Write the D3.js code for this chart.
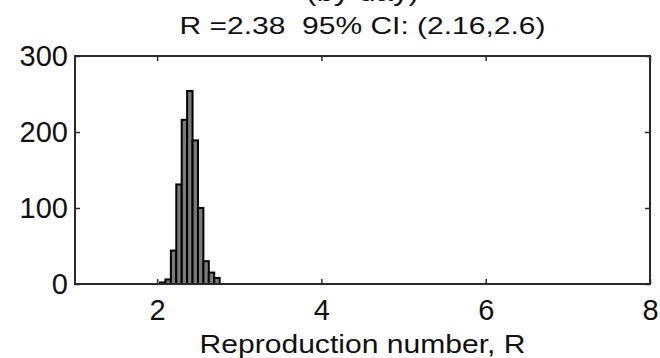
<!DOCTYPE html>
<html>
<head>
<meta charset="utf-8">
<script src="https://cdn.jsdelivr.net/npm/d3@7"></script>
<style>
  html, body { margin: 0; padding: 0; background: #fff; }
  svg { display: block; }
  text { font-family: "Liberation Sans", Arial, Helvetica, sans-serif; fill: #111; }
</style>
</head>
<body>
<svg id="chart" width="660" height="358"></svg>
<script>
// ---- data ----
const titleLines = ["(by day)", "R =2.38  95% CI: (2.16,2.6)"];
const xLabel = "Reproduction number, R";
const xTicks = [2, 4, 6, 8];
const yTicks = [0, 100, 200, 300];
const xDomain = [1, 8];
const yDomain = [0, 300];
const binLeft  = [2.035, 2.101, 2.167, 2.233, 2.299, 2.365, 2.431, 2.497, 2.563, 2.629, 2.695];
const binRight = [2.101, 2.167, 2.233, 2.299, 2.365, 2.431, 2.497, 2.563, 2.629, 2.695, 2.761];
const counts   = [2, 6, 44, 131, 216, 254, 189, 100, 30, 15, 8];

// ---- layout ----
const W = 660, H = 358;
const m = { left: 75, right: 10, top: 56, bottom: 74 };
const svg = d3.select("#chart");
const x = d3.scaleLinear().domain(xDomain).range([m.left, W - m.right]);
const y = d3.scaleLinear().domain(yDomain).range([H - m.bottom, m.top]);
const axisColor = "#2a2a2a";

// bars
svg.append("g").selectAll("rect")
  .data(counts)
  .join("rect")
  .attr("x", (d, i) => x(binLeft[i]))
  .attr("width", (d, i) => x(binRight[i]) - x(binLeft[i]))
  .attr("y", d => y(d))
  .attr("height", d => y(0) - y(d))
  .attr("fill", "#7a7a7a")
  .attr("stroke", "#000")
  .attr("stroke-width", 2);

// axes (ticks inside, MATLAB style)
const gx = svg.append("g").attr("transform", `translate(0,${y(0)})`)
  .call(d3.axisBottom(x).tickValues(xTicks).tickSizeInner(-5).tickSizeOuter(0).tickPadding(15).tickFormat(d3.format("d")));
const gxTop = svg.append("g").attr("transform", `translate(0,${y(300)})`)
  .call(d3.axisTop(x).tickValues(xTicks).tickSizeInner(-5).tickSizeOuter(0).tickFormat(""));
const gy = svg.append("g").attr("transform", `translate(${x(1)},0)`)
  .call(d3.axisLeft(y).tickValues(yTicks).tickSizeInner(-5).tickSizeOuter(0).tickPadding(7).tickFormat(d3.format("d")));
const gyR = svg.append("g").attr("transform", `translate(${x(8)},0)`)
  .call(d3.axisRight(y).tickValues(yTicks).tickSizeInner(-5).tickSizeOuter(0).tickFormat(""));

[gx, gxTop, gy, gyR].forEach(g => {
  g.select(".domain").remove();
  g.selectAll(".tick line").attr("stroke", axisColor).attr("stroke-width", 1.5);
  g.selectAll(".tick text").attr("font-size", 29).attr("fill", "#111")
    .style("font-family", '"Liberation Sans", Arial, sans-serif');
});

// frame box
svg.append("rect")
  .attr("x", x(1)).attr("y", y(300))
  .attr("width", x(8) - x(1)).attr("height", y(0) - y(300))
  .attr("fill", "none").attr("stroke", axisColor).attr("stroke-width", 2);

// titles
const cx = (x(1) + x(8)) / 2;
svg.append("text")
  .attr("transform", `translate(${cx},1) scale(1.25,1)`)
  .attr("text-anchor", "middle").attr("font-size", 25)
  .style("white-space", "pre")
  .text(titleLines[0]);
svg.append("text")
  .attr("transform", `translate(${cx},34) scale(1.25,1)`)
  .attr("text-anchor", "middle").attr("font-size", 24)
  .style("white-space", "pre")
  .text(titleLines[1]);

// x label
svg.append("text")
  .attr("transform", `translate(${cx},353) scale(1.18,1)`)
  .attr("text-anchor", "middle").attr("font-size", 25.5)
  .text(xLabel);
</script>
</body>
</html>
